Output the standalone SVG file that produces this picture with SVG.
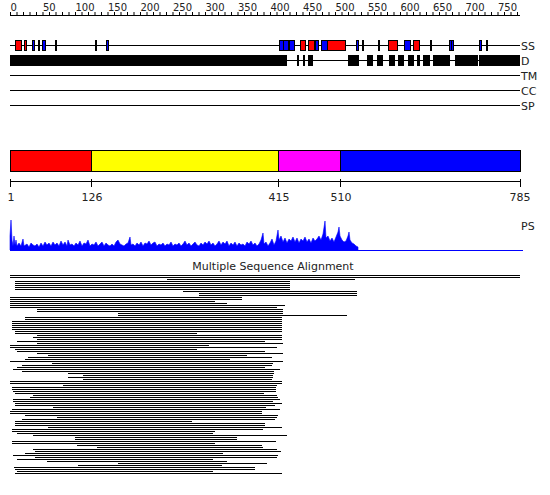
<svg xmlns="http://www.w3.org/2000/svg" width="550" height="495" viewBox="0 0 550 495">
<style>
text{font-family:"DejaVu Sans","Liberation Sans",sans-serif;fill:#222}
.rl{font-size:10px}
.lb{font-size:11px}
.ln{stroke:#000;stroke-width:1;fill:none}
.bx{stroke:#000;stroke-width:1}
.r{fill:#ff0000}.b{fill:#0000ff}.k{fill:#000}
.al rect{fill:#000}
</style>
<rect width="550" height="495" fill="#fff"/>
<g id="ruler">
<line class="ln" x1="10" y1="15.5" x2="520" y2="15.5"/>
<line x1="10" y1="13.5" x2="518" y2="13.5" stroke="#000" stroke-width="3" stroke-dasharray="1 5.5"/>
<g class="rl">
<text x="10.5" y="11">0</text><text x="43" y="11">50</text><text x="75.5" y="11">100</text><text x="108" y="11">150</text>
<text x="140.5" y="11">200</text><text x="173" y="11">250</text><text x="205.5" y="11">300</text><text x="238" y="11">350</text>
<text x="270.5" y="11">400</text><text x="303" y="11">450</text><text x="335.5" y="11">500</text><text x="368" y="11">550</text>
<text x="400.5" y="11">600</text><text x="433" y="11">650</text><text x="465.5" y="11">700</text><text x="498" y="11">750</text>
</g>
</g>
<g id="track-SS">
<line class="ln" x1="10" y1="45.5" x2="520" y2="45.5"/>
<g class="bx">
<rect class="r" x="15.5" y="40.5" width="6" height="10"/>
<rect class="r" x="24.5" y="40.5" width="2" height="10"/>
<rect class="b" x="32.5" y="40.5" width="2" height="10"/>
<rect class="b" x="42.5" y="40.5" width="3" height="10"/>
<rect class="b" x="106.5" y="40.5" width="2" height="10"/>
<rect class="b" x="279.5" y="40.5" width="4" height="10"/>
<rect class="b" x="283.5" y="40.5" width="5" height="10"/>
<rect class="b" x="289.5" y="40.5" width="5" height="10"/>
<rect class="r" x="300.5" y="40.5" width="5" height="10"/>
<rect class="r" x="308.5" y="40.5" width="6" height="10"/>
<rect class="b" x="315.5" y="40.5" width="3" height="10"/>
<rect class="b" x="321.5" y="40.5" width="6" height="10"/>
<rect class="r" x="327.5" y="40.5" width="18" height="10"/>
<rect class="b" x="356.5" y="40.5" width="2" height="10"/>
<rect class="r" x="378.5" y="40.5" width="1" height="10"/>
<rect class="r" x="388.5" y="40.5" width="9" height="10"/>
<rect class="b" x="404.5" y="40.5" width="6" height="10"/>
<rect class="r" x="413.5" y="40.5" width="6" height="10"/>
<rect class="b" x="449.5" y="40.5" width="2" height="10"/>
<rect class="b" x="451.5" y="40.5" width="2" height="10"/>
<rect class="b" x="479.5" y="40.5" width="2" height="10"/>
</g>
<g class="k">
<rect x="38" y="40" width="2" height="11"/>
<rect x="55" y="40" width="2" height="11"/>
<rect x="95" y="40" width="2" height="11"/>
<rect x="362" y="40" width="2" height="11"/>
<rect x="430" y="40" width="2" height="11"/>
<rect x="486" y="40" width="2" height="11"/>
</g>
<text class="lb" x="521" y="49.5">SS</text>
</g>
<g id="track-D">
<line class="ln" x1="287" y1="60.5" x2="520" y2="60.5"/>
<g class="k">
<rect x="10" y="55" width="277" height="11"/>
<rect x="297" y="55" width="2" height="11"/>
<rect x="303" y="55" width="2" height="11"/>
<rect x="308" y="55" width="5" height="11"/>
<rect x="348" y="55" width="11" height="11"/>
<rect x="367" y="55" width="6" height="11"/>
<rect x="377" y="55" width="6" height="11"/>
<rect x="389" y="55" width="6" height="11"/>
<rect x="398" y="55" width="6" height="11"/>
<rect x="408" y="55" width="6" height="11"/>
<rect x="417" y="55" width="3" height="11"/>
<rect x="423" y="55" width="7" height="11"/>
<rect x="433" y="55" width="17" height="11"/>
<rect x="455" y="55" width="23" height="11"/>
<rect x="479" y="55" width="41" height="11"/>
</g>
<text class="lb" x="521" y="64.5">D</text>
</g>
<g id="track-TM"><line class="ln" x1="10" y1="75.5" x2="520" y2="75.5"/><text class="lb" x="521" y="79.5">TM</text></g>
<g id="track-CC"><line class="ln" x1="10" y1="90.5" x2="520" y2="90.5"/><text class="lb" x="521" y="94.5">CC</text></g>
<g id="track-SP"><line class="ln" x1="10" y1="105.5" x2="520" y2="105.5"/><text class="lb" x="521" y="109.5">SP</text></g>
<g id="domains" class="bx">
<rect id="dom1" x="10.5" y="150.5" width="81" height="21" fill="#ff0000"/>
<rect id="dom2" x="91.5" y="150.5" width="187" height="21" fill="#ffff00"/>
<rect id="dom3" x="278.5" y="150.5" width="62" height="21" fill="#ff00ff"/>
<rect id="dom4" x="340.5" y="150.5" width="180" height="21" fill="#0000ff"/>
</g>
<g id="axis">
<line class="ln" x1="10" y1="181.5" x2="521" y2="181.5"/>
<path class="ln" d="M10.5 179v8M91.5 179v8M278.5 179v8M340.5 179v8M520.5 179v8"/>
<g class="lb" text-anchor="middle">
<text x="11" y="201">1</text><text x="92" y="201">126</text><text x="279" y="201">415</text><text x="341" y="201">510</text><text x="520" y="201">785</text>
</g>
</g>
<g id="PS">
<path fill="#0000ff" stroke="#0000ff" stroke-width="0.6" stroke-linejoin="bevel" d="M10 250L10 236 11 220 12 240 13 246 14 236 15 245 16 240 17 246 19 243 21 246 23 239 24 246 27 244 29 247 31 243 33 245 35 246 37 244 39 247 41 243 43 246 45 242 47 245 49 243 51 246 53 242 55 245 57 243 59 246 61 241 63 245 65 242 67 246 68 240 70 245 72 244 74 246 76 243 78 245 80 241 82 246 84 243 86 244 88 240 90 246 92 244 94 245 96 242 98 246 100 244 102 242 104 246 106 243 108 245 110 246 112 244 114 246 116 242 118 240 120 244 122 245 124 246 126 244 128 243 130 237 131 245 133 244 135 246 137 243 139 245 141 242 143 246 145 243 147 244 149 241 151 245 153 243 155 242 157 246 159 244 161 245 163 243 165 246 167 244 169 245 171 242 173 246 175 244 177 245 179 243 181 246 183 244 185 241 187 245 189 243 191 246 193 244 195 242 197 245 199 246 201 243 203 245 205 242 207 244 209 241 211 245 213 243 215 246 217 244 219 241 221 245 223 242 225 244 227 241 229 246 231 243 233 245 235 242 237 246 239 243 241 245 243 244 245 246 247 242 249 244 251 241 253 245 255 243 257 246 259 244 261 240 263 233 264 244 266 242 268 246 270 243 272 239 274 245 276 241 278 230 279 240 281 236 283 242 285 238 287 243 289 239 291 241 293 237 295 242 297 238 299 243 301 239 303 241 305 237 307 242 309 239 311 243 313 238 315 241 317 239 319 236 321 240 323 234 325 221 326 238 328 236 330 241 332 238 334 242 336 237 338 232 339 227 340 236 342 240 344 242 346 241 348 236 349 232 350 240 352 243 354 244 356 246 358 247 358 250Z"/>
<line x1="10" y1="250.5" x2="523" y2="250.5" stroke="#0000ff" stroke-width="1"/>
<text class="lb" x="521" y="230">PS</text>
</g>
<g id="MSA">
<text class="lb" x="273" y="270" text-anchor="middle">Multiple Sequence Alignment</text>
<g class="al">
<rect x="10" y="275" width="510" height="1"/><rect x="10" y="277" width="510" height="1"/>
<rect x="167" y="279" width="188" height="1"/><rect x="15" y="281" width="275" height="1"/>
<rect x="15" y="283" width="275" height="1"/><rect x="15" y="285" width="275" height="1"/>
<rect x="15" y="287" width="275" height="1"/><rect x="15" y="289" width="275" height="1"/>
<rect x="183" y="291" width="174" height="1"/><rect x="199" y="293" width="158" height="1"/>
<rect x="199" y="295" width="158" height="1"/><rect x="10" y="297" width="232" height="1"/>
<rect x="10" y="299" width="232" height="1"/><rect x="10" y="301" width="205" height="1"/>
<rect x="10" y="303" width="217" height="1"/><rect x="10" y="305" width="275" height="1"/>
<rect x="10" y="307" width="267" height="1"/><rect x="37" y="309" width="246" height="1"/>
<rect x="37" y="311" width="246" height="1"/><rect x="118" y="313" width="165" height="1"/>
<rect x="118" y="315" width="229" height="1"/><rect x="25" y="317" width="257" height="1"/>
<rect x="25" y="319" width="257" height="1"/><rect x="12" y="321" width="270" height="1"/>
<rect x="12" y="323" width="270" height="1"/><rect x="12" y="325" width="270" height="1"/>
<rect x="12" y="327" width="270" height="1"/><rect x="12" y="329" width="270" height="1"/>
<rect x="15" y="331" width="267" height="1"/><rect x="15" y="333" width="182" height="1"/>
<rect x="37" y="335" width="245" height="1"/><rect x="33" y="337" width="249" height="1"/>
<rect x="37" y="339" width="245" height="1"/><rect x="17" y="341" width="248" height="1"/>
<rect x="37" y="343" width="246" height="1"/><rect x="10" y="345" width="199" height="1"/>
<rect x="10" y="347" width="267" height="1"/><rect x="15" y="349" width="182" height="1"/>
<rect x="17" y="351" width="248" height="1"/><rect x="37" y="353" width="246" height="1"/>
<rect x="48" y="355" width="199" height="1"/><rect x="28" y="357" width="244" height="1"/>
<rect x="25" y="359" width="205" height="1"/><rect x="10" y="361" width="273" height="1"/>
<rect x="52" y="363" width="221" height="1"/><rect x="22" y="365" width="250" height="1"/>
<rect x="17" y="367" width="248" height="1"/><rect x="13" y="369" width="267" height="1"/>
<rect x="22" y="371" width="252" height="1"/><rect x="68" y="373" width="206" height="1"/>
<rect x="83" y="375" width="190" height="1"/><rect x="68" y="377" width="205" height="1"/>
<rect x="83" y="379" width="189" height="1"/><rect x="10" y="381" width="272" height="1"/>
<rect x="10" y="383" width="272" height="1"/><rect x="63" y="385" width="214" height="1"/>
<rect x="12" y="387" width="264" height="1"/><rect x="12" y="389" width="264" height="1"/>
<rect x="13" y="391" width="263" height="1"/><rect x="15" y="393" width="249" height="1"/>
<rect x="33" y="395" width="244" height="1"/><rect x="30" y="397" width="248" height="1"/>
<rect x="13" y="399" width="267" height="1"/><rect x="13" y="401" width="260" height="1"/>
<rect x="15" y="403" width="267" height="1"/><rect x="15" y="405" width="260" height="1"/>
<rect x="53" y="407" width="213" height="1"/><rect x="12" y="409" width="268" height="1"/>
<rect x="10" y="411" width="252" height="1"/><rect x="10" y="413" width="252" height="1"/>
<rect x="25" y="415" width="253" height="1"/><rect x="57" y="417" width="220" height="1"/>
<rect x="22" y="419" width="253" height="1"/><rect x="15" y="421" width="177" height="1"/>
<rect x="15" y="423" width="250" height="1"/><rect x="15" y="425" width="250" height="1"/>
<rect x="48" y="427" width="234" height="1"/><rect x="12" y="429" width="251" height="1"/>
<rect x="12" y="431" width="203" height="1"/><rect x="17" y="433" width="196" height="1"/>
<rect x="33" y="435" width="254" height="1"/><rect x="75" y="437" width="162" height="1"/>
<rect x="75" y="439" width="162" height="1"/><rect x="12" y="441" width="264" height="1"/>
<rect x="12" y="443" width="203" height="1"/><rect x="77" y="445" width="185" height="1"/>
<rect x="97" y="447" width="166" height="1"/><rect x="33" y="449" width="244" height="1"/>
<rect x="35" y="451" width="246" height="1"/><rect x="25" y="453" width="198" height="1"/>
<rect x="13" y="455" width="265" height="1"/><rect x="35" y="457" width="242" height="1"/>
<rect x="17" y="459" width="196" height="1"/><rect x="47" y="461" width="180" height="1"/>
<rect x="118" y="463" width="149" height="1"/><rect x="78" y="465" width="144" height="1"/>
<rect x="14" y="467" width="241" height="1"/><rect x="15" y="469" width="240" height="1"/>
<rect x="17" y="471" width="196" height="1"/><rect x="15" y="473" width="267" height="1"/>
</g>
</g>
</svg>
